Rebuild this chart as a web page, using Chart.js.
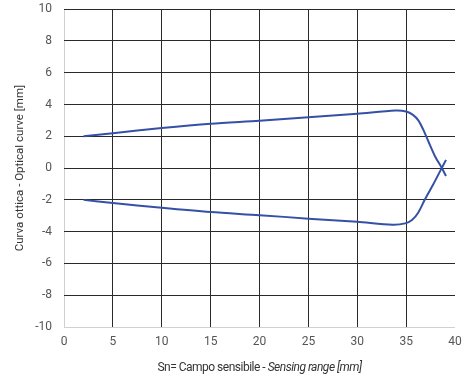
<!DOCTYPE html>
<html>
<head>
<meta charset="utf-8">
<script src="https://cdn.jsdelivr.net/npm/chart.js@4"></script>
<style>
  html, body { margin: 0; padding: 0; background: #fff; overflow: hidden; }
  #wrap { position: relative; width: 470px; height: 385px; overflow: hidden; }
  #chart { position: absolute; left: 0; top: -10px; }
  #xtitle {
    position: absolute; left: 64px; width: 391px; top: 360px;
    text-align: center; font: 12px Roboto, sans-serif; color: #333;
    letter-spacing: -0.5px;
  }
</style>
</head>
<body>
<div id="wrap">
  <canvas id="chart" width="470" height="395"></canvas>
  <div id="xtitle">Sn= Campo sensibile - <i>Sensing range [mm]</i></div>
</div>
<script>
// upper branch of the optical curve
const upperX = [2, 5, 10, 15, 20, 25, 30, 33.9, 35, 35.7, 36.25, 36.75, 37.27, 37.95, 38.64, 39.08];
const upperY = [2.0, 2.2, 2.52, 2.79, 2.98, 3.2, 3.42, 3.62, 3.56, 3.35, 3.0, 2.42, 1.69, 0.75, 0.02, -0.5];
// lower branch
const lowerX = [2, 5, 10, 15, 20, 25, 30, 33.6, 34.9, 35.6, 36.25, 36.93, 37.78, 38.64, 39.08];
const lowerY = [-2.0, -2.19, -2.5, -2.77, -2.96, -3.18, -3.38, -3.56, -3.48, -3.27, -2.79, -1.96, -1.02, 0.0, 0.52];

const xTicks = [0, 5, 10, 15, 20, 25, 30, 35, 40];
const yTicks = [-10, -8, -6, -4, -2, 0, 2, 4, 6, 8, 10];

function toPoints(xs, ys) {
  return xs.map((x, i) => ({ x: x, y: ys[i] }));
}

const lineColor = "#3551a5";

const ctx = document.getElementById("chart").getContext("2d");
new Chart(ctx, {
  type: "scatter",
  data: {
    datasets: [
      { data: toPoints(upperX, upperY), showLine: true, borderColor: lineColor, borderWidth: 2,
        pointRadius: 0, tension: 0.3 },
      { data: toPoints(lowerX, lowerY), showLine: true, borderColor: lineColor, borderWidth: 2,
        pointRadius: 0, tension: 0.3 }
    ]
  },
  options: {
    responsive: false,
    animation: false,
    layout: { padding: { top: 0, right: 15, left: 0, bottom: 0 } },
    plugins: { legend: { display: false }, tooltip: { enabled: false } },
    scales: {
      x: {
        type: "linear", min: 0, max: 40,
        afterBuildTicks: s => { s.ticks = xTicks.map(v => ({ value: v })); },
        afterFit: s => { s.height = 58; },
        border: { display: false },
        grid: {
          drawTicks: false, lineWidth: 1,
          color: c => c.tick.value === 0 ? "#d0d0d0" : (c.tick.value === 40 ? "rgba(0,0,0,0)" : "#2a2a2a")
        },
        ticks: { padding: 8, color: "#555", font: { family: "Roboto", size: 12 }, maxRotation: 0 }
      },
      y: {
        type: "linear", min: -10, max: 10,
        afterBuildTicks: s => { s.ticks = yTicks.map(v => ({ value: v })); },
        afterFit: s => { s.width = 64; },
        border: { display: false },
        grid: {
          drawTicks: false, lineWidth: 1,
          color: c => c.tick.value === -10 ? "#d0d0d0" : "#2a2a2a"
        },
        ticks: { padding: 12, color: "#555", font: { family: "Roboto", size: 12 } },
        title: { display: true, text: "Curva ottica - Optical curve [mm]", color: "#333",
                 font: { family: "Roboto", size: 11.5 }, padding: { top: 13, bottom: 4 } }
      }
    }
  }
});
</script>
</body>
</html>
